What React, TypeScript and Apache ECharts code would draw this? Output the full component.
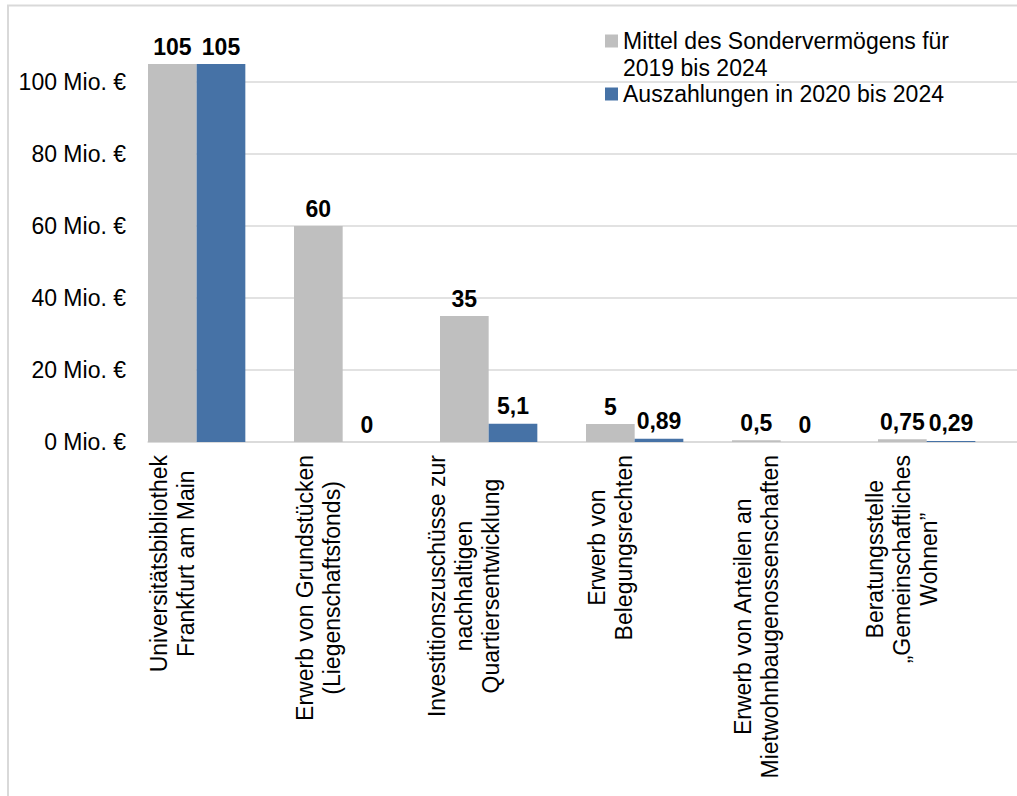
import React, { useEffect, useRef } from "react";
import * as echarts from "echarts";

const categories = [
  "Universitätsbibliothek\nFrankfurt am Main",
  "Erwerb von Grundstücken\n(Liegenschaftsfonds)",
  "Investitionszuschüsse zur\nnachhaltigen\nQuartiersentwicklung",
  "Erwerb von\nBelegungsrechten",
  "Erwerb von Anteilen an\nMietwohnbaugenossenschaften",
  "Beratungsstelle\n„Gemeinschaftliches\nWohnen”",
];
const seriesNames = [
  "Mittel des Sondervermögens für\n2019 bis 2024",
  "Auszahlungen in 2020 bis 2024",
];
const mittel = [105, 60, 35, 5, 0.5, 0.75];
const auszahlungen = [105, 0, 5.1, 0.89, 0, 0.29];
const spacer = [null, null, null, null, null, null];
const yMin = 0;
const yMax = 120;
const yInterval = 20;
const yUnit = " Mio. €";

const FONT = "'Liberation Sans', Arial, sans-serif";
const GREY = "#bfbfbf";
const BLUE = "#4672a6";
const LINE = "#d9d9d9";
const FS = 23;

const fmt = (v: number) => String(v).replace(".", ",");

export default function App() {
  const ref = useRef<HTMLDivElement>(null);
  useEffect(() => {
    document.body.style.margin = "0";
    const chart = echarts.init(ref.current!, null, { renderer: "svg" });
    const dataLabel = {
      show: true,
      position: "top",
      distance: 6,
      fontFamily: FONT,
      fontSize: FS,
      fontWeight: "bold",
      color: "#000",
      formatter: (p: any) => fmt(p.value),
    };
    chart.setOption({
      animation: false,
      backgroundColor: "#fff",
      textStyle: { fontFamily: FONT },
      graphic: [
        {
          type: "rect",
          z: -10,
          silent: true,
          shape: { x: 8, y: 5.5, width: 1200, height: 1000 },
          style: { fill: "none", stroke: LINE, lineWidth: 2 },
        },
      ],
      grid: {
        left: 148,
        right: -7,
        top: 10,
        bottom: 354,
        containLabel: false,
        outerBoundsMode: "none",
      },
      legend: {
        left: 605,
        top: 0.5,
        orient: "vertical",
        padding: 0,
        itemWidth: 13,
        itemHeight: 13,
        itemGap: -1,
        icon: "rect",
        selectedMode: false,
        formatter: (name: string) => (name.includes("\n") ? "\n" + name : name),
        textStyle: { fontFamily: FONT, fontSize: FS, lineHeight: 27, color: "#000" },
        data: seriesNames,
      },
      xAxis: {
        type: "category",
        data: categories,
        axisTick: { show: false },
        axisLine: { lineStyle: { color: LINE, width: 1.5 } },
        axisLabel: {
          interval: 0,
          rotate: 90,
          margin: 13,
          padding: [0, 0, 98, 0],
          fontFamily: FONT,
          fontSize: FS,
          lineHeight: 27,
          color: "#000",
          formatter: (v: string) =>
            v
              .split("\n")
              .map((l) => `{c|${l}}`)
              .join("\n"),
          rich: {
            c: {
              align: "center",
              fontFamily: FONT,
              fontSize: FS,
              lineHeight: 27,
              color: "#000",
            },
          },
        },
      },
      yAxis: {
        type: "value",
        min: yMin,
        max: yMax,
        interval: yInterval,
        axisLine: { show: false },
        axisTick: { show: false },
        axisLabel: {
          showMaxLabel: false,
          margin: 22,
          fontFamily: FONT,
          fontSize: FS,
          color: "#000",
          formatter: (v: number) => `${v}${yUnit}`,
        },
        splitLine: {
          showMaxLine: false,
          lineStyle: {
            color: [LINE, LINE, LINE, LINE, LINE, LINE, "rgba(0,0,0,0)"],
            width: 1.5,
          },
        },
      },
      series: [
        {
          name: seriesNames[0],
          type: "bar",
          data: mittel,
          barGap: "0%",
          barCategoryGap: "0%",
          itemStyle: { color: GREY },
          label: dataLabel,
        },
        {
          name: seriesNames[1],
          type: "bar",
          data: auszahlungen,
          barGap: "0%",
          barCategoryGap: "0%",
          itemStyle: { color: BLUE },
          label: dataLabel,
        },
        {
          name: "spacer",
          type: "bar",
          data: spacer,
          silent: true,
          barGap: "0%",
          barCategoryGap: "0%",
          itemStyle: { color: "rgba(0,0,0,0)" },
        },
      ],
    });
    return () => chart.dispose();
  }, []);
  return <div ref={ref} style={{ width: 1017, height: 796 }} />;
}
